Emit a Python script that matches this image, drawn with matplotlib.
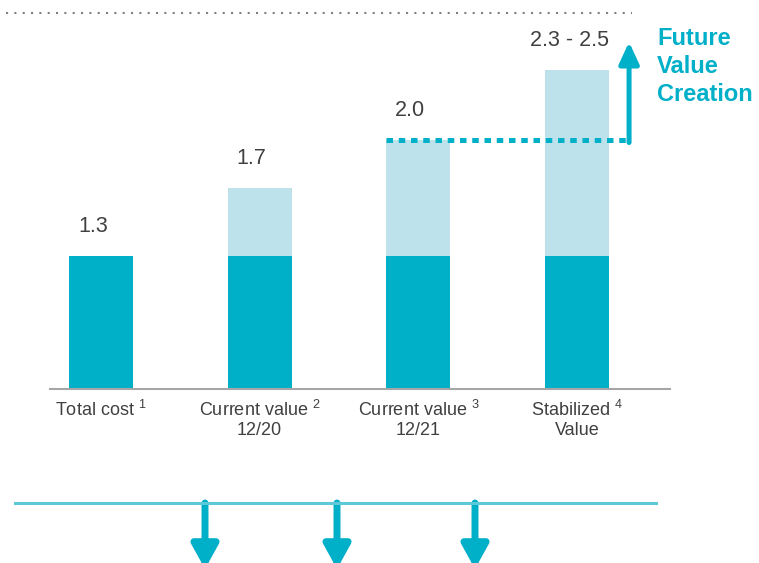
import numpy as np
import matplotlib.pyplot as plt
import matplotlib as mpl

# Bar categories and values (heights as drawn; the chart is not to scale)
categories = ['Total cost $^{1}$', 'Current value $^{2}$\n12/20',
              'Current value $^{3}$\n12/21', 'Stabilized $^{4}$\nValue']
base_heights = [1.3, 1.3, 1.3, 1.3]
top_heights = [1.3, 1.965, 2.434, 3.118]
value_labels = ['1.3', '1.7', '2.0', '2.3 - 2.5']

dark_clr = '#00AFC8'
light_clr = '#BDE2EB'
text_clr = '#404040'

plt.rcParams['font.family'] = ['Liberation Sans', 'DejaVu Sans']
plt.rcParams['mathtext.fontset'] = 'custom'
plt.rcParams['mathtext.rm'] = 'Liberation Sans'
plt.rcParams['mathtext.it'] = 'Liberation Sans'

W, H = 759, 563
fig = plt.figure(figsize=(W / 100, H / 100), dpi=100)

# main axes: baseline at y=389px, x from 50 to 670 px
px = 1.3 / 133.0
ax_top = 20
ax = fig.add_axes([50 / W, (H - 389) / H, 620 / W, (389 - ax_top) / H])
x = np.arange(len(categories))
ax.set_xlim(-(101 - 50) / 159, 3 + (670 - 577) / 159)
ax.set_ylim(0, (389 - ax_top) * px)

bw = 64 / 159
ax.bar(x, top_heights, width=bw, color=light_clr, zorder=1)
ax.bar(x, base_heights, width=bw, color=dark_clr, zorder=2)

for xi, h, lbl in zip(x, top_heights, value_labels):
    ax.annotate(lbl, (xi, h), xytext=(-8, 19), textcoords='offset pixels',
                ha='center', va='bottom', fontsize=15.5, color=text_clr)

ax.set_xticks(x)
ax.set_xticklabels(categories, fontsize=13, color=text_clr, linespacing=1.12)
ax.tick_params(axis='x', length=0, pad=8)
ax.set_yticks([])
for s in ['top', 'right', 'left']:
    ax.spines[s].set_visible(False)
ax.spines['bottom'].set_color('#A6A6A6')
ax.spines['bottom'].set_linewidth(1.5)

# dotted line from the 12/21 bar to the future value arrow
arrow_x = (630 - 50) / 159 + ax.get_xlim()[0]
ax.plot([x[2] - bw / 2, arrow_x], [top_heights[2], top_heights[2]],
        color=dark_clr, lw=3.6, linestyle=(0, (1.3, 1.15)),
        solid_capstyle='butt', dash_capstyle='butt', zorder=3)
ax.annotate('', xy=(arrow_x, (389 - 42) * px), xytext=(arrow_x, top_heights[2] - 0.025),
            arrowprops=dict(arrowstyle='-|>,head_length=1.3,head_width=0.6',
                            color=dark_clr, lw=3.6, shrinkA=0, shrinkB=0),
            zorder=4, annotation_clip=False)

fig.text(657 / W, 1 - 27 / H, 'Future\nValue\nCreation', ha='left', va='top',
         fontsize=17, fontweight='bold', color=dark_clr, linespacing=1.27)

# dotted separator at top
fig.add_artist(mpl.lines.Line2D([6 / W, 632 / W], [1 - 12.5 / H, 1 - 12.5 / H],
                                color='#808080', lw=1.5, linestyle=(0, (1, 3))))

# bottom line and down arrows
fig.add_artist(mpl.lines.Line2D([15 / W, 656 / W], [1 - 503 / H, 1 - 503 / H],
                                color='#5CC8D8', lw=2.2))
for ax_px in [205, 337, 475]:
    ax.annotate('', xy=(ax_px, -6), xycoords='figure pixels',
                xytext=(ax_px, H - 503), textcoords='figure pixels',
                arrowprops=dict(arrowstyle='-|>,head_length=1.45,head_width=0.8',
                                color=dark_clr, lw=5, shrinkA=0, shrinkB=0),
                annotation_clip=False)

fig.savefig('out.png', dpi=100)
